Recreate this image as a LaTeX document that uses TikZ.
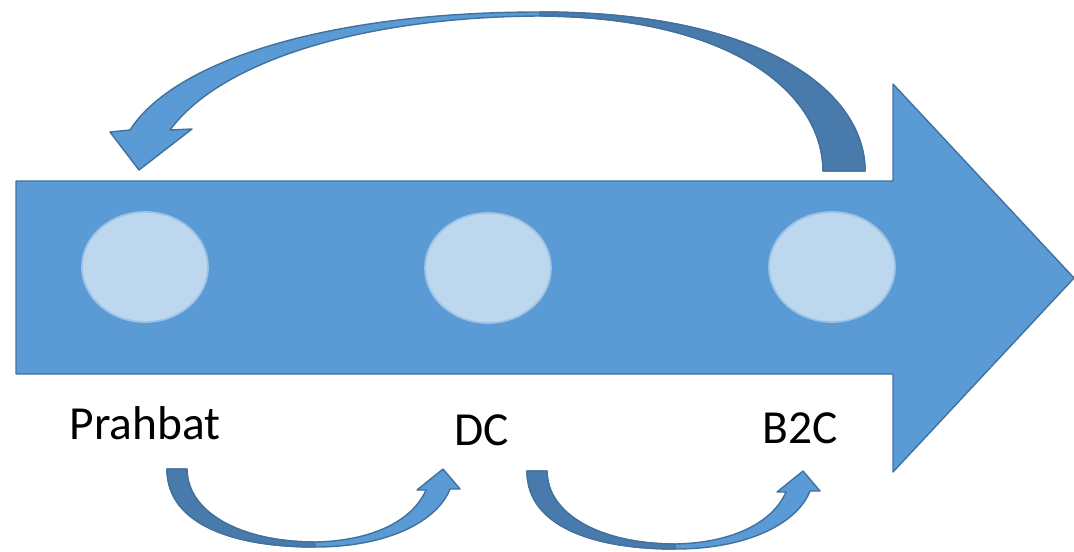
\documentclass[tikz,border=0pt]{standalone}
\usepackage{fontspec}
\setmainfont{Carlito}
\usetikzlibrary{shapes.geometric}
\definecolor{flowblue}{RGB}{91,155,213}
\definecolor{flowedge}{RGB}{65,113,156}
\definecolor{flowdark}{RGB}{72,122,171}
\definecolor{stagefill}{RGB}{189,215,238}
\definecolor{stageedge}{RGB}{157,195,230}
\begin{document}
\begin{tikzpicture}[x=0.02cm,y=-0.02cm]
        \tikzstyle{stage}=[ellipse,draw=stageedge,line width=1pt,fill=stagefill,minimum width=2.52cm,minimum height=2.2cm,inner sep=0pt]
        \tikzstyle{stagename}=[anchor=base,font=\fontsize{27}{32}\selectfont,text=black]
        \tikzstyle{band}=[fill=flowblue,draw=flowedge,line width=0.8pt,line join=round]
        \tikzstyle{bandback}=[fill=flowdark,draw=flowedge,line width=0.8pt,line join=round]
        \useasboundingbox (0,0) rectangle (1074,551);
        \begin{scope}
            \path[band] (16,181) -- (893,181) -- (893,84) -- (1074,278) -- (893,472) -- (893,374) -- (16,374) -- cycle;
            \path[band] (865,171) .. controls (865,90) and (760,12) .. (540,12) .. controls (330,12) and (175,60) .. (130,130) -- (110,132) -- (139,170) -- (192,129) -- (170,130) .. controls (220,62) and (360,17) .. (540,16) .. controls (735,17) and (823,95) .. (823,171) -- cycle;
            \path[bandback] (865,171) .. controls (865,90) and (760,12) .. (540,12) -- (540,16) .. controls (735,17) and (823,95) .. (823,171) -- cycle;
            \foreach \dx/\dy in {0/0,360/2} {
                \begin{scope}[shift={(\dx,\dy)}]
                    \path[band] (167,469) .. controls (167,525) and (235,547) .. (315,547) .. controls (390,547) and (438,520) .. (450,489) -- (460,489) -- (443,469) -- (417,490) -- (426,490) .. controls (412,522) and (370,541) .. (315,542) .. controls (240,542) and (187,512) .. (187,469) -- cycle;
                    \path[bandback] (167,469) .. controls (167,525) and (235,547) .. (315,547) -- (315,542) .. controls (240,542) and (187,512) .. (187,469) -- cycle;
                \end{scope}
            }
            \node [stage] (prahbat) at (145,267) {};
            \node [stage] (dc) at (488,268) {};
            \node [stage] (b2c) at (832,267) {};
            \node [stagename] (prahbatname) at (145,439) {Prahbat};
            \node [stagename] (dcname) at (482,445) {DC};
            \node [stagename] (b2cname) at (800,443) {B2C};
        \end{scope}
\end{tikzpicture}
\end{document}
